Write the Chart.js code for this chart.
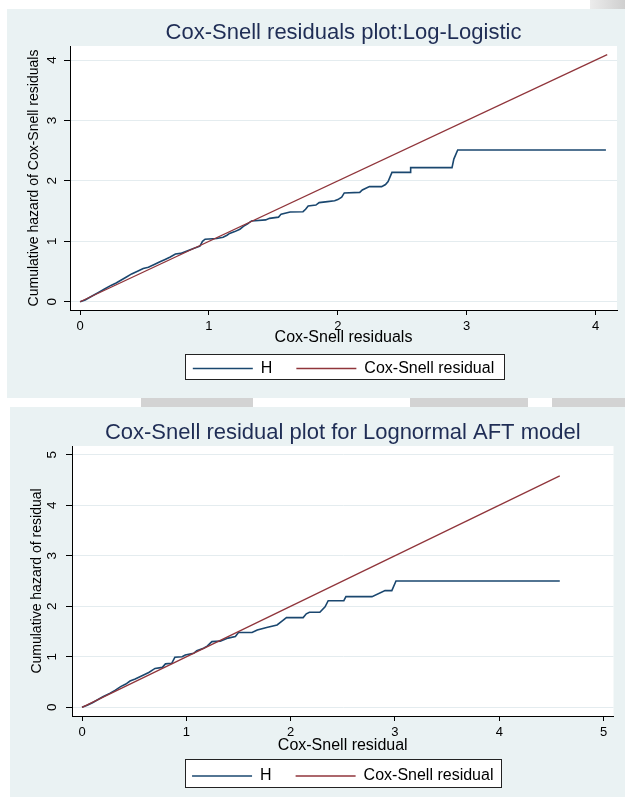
<!DOCTYPE html>
<html><head><meta charset="utf-8">
<script src="https://cdn.jsdelivr.net/npm/chart.js@4.4.1/dist/chart.umd.min.js"></script>
<style>
html,body{margin:0;padding:0;background:#fff;width:625px;height:798px;overflow:hidden;position:relative;}
.cv{position:absolute;}
.g{position:absolute;background:#d3d3d3;}
</style></head><body>
<div class="g" style="left:590px;top:0;width:35px;height:9px;background:linear-gradient(90deg,#ececec,#cfcfcf);"></div>
<div class="g" style="left:141px;top:398px;width:112px;height:9px;"></div>
<div class="g" style="left:410px;top:398px;width:118px;height:9px;"></div>
<div class="g" style="left:552px;top:398px;width:73px;height:9px;"></div>
<canvas id="c1" class="cv" width="618" height="389" style="left:7px;top:9px;width:618px;height:389px;"></canvas>
<canvas id="c2" class="cv" width="615" height="390" style="left:10px;top:407px;width:615px;height:390px;"></canvas>
<script>
// ---------- data: Log-Logistic panel ----------
const llTitle = 'Cox-Snell residuals plot:Log-Logistic';
const llXTitle = 'Cox-Snell residuals';
const llYTitle = 'Cumulative hazard of Cox-Snell residuals';
const llHx = [0,0.04,0.09,0.14,0.19,0.24,0.28,0.32,0.36,0.40,0.45,0.49,0.53,0.58,0.62,0.66,0.70,0.74,0.78,0.83,0.88,0.93,0.95,0.97,1.06,1.09,1.11,1.14,1.16,1.20,1.24,1.27,1.30,1.33,1.44,1.47,1.54,1.56,1.63,1.73,1.75,1.77,1.83,1.855,1.92,1.975,2.00,2.03,2.05,2.17,2.19,2.245,2.34,2.37,2.39,2.42,2.56,2.565,2.886,2.90,2.93,4.08];
const llHy = [0,0.03,0.09,0.15,0.21,0.27,0.31,0.36,0.41,0.46,0.51,0.55,0.57,0.62,0.66,0.70,0.74,0.79,0.80,0.84,0.88,0.92,1.00,1.035,1.045,1.06,1.067,1.10,1.13,1.16,1.20,1.25,1.29,1.337,1.354,1.38,1.40,1.45,1.486,1.49,1.53,1.585,1.60,1.64,1.657,1.67,1.69,1.73,1.80,1.81,1.85,1.905,1.905,1.94,1.99,2.14,2.14,2.22,2.22,2.36,2.51,2.51];
const llRx = [0, 4.09];
const llRy = [0, 4.09];
const llXTicks = [0,1,2,3,4];
const llYTicks = [0,1,2,3,4];

// ---------- data: Lognormal panel ----------
const lnTitle = 'Cox-Snell residual plot for Lognormal AFT model';
const lnXTitle = 'Cox-Snell residual';
const lnYTitle = 'Cumulative hazard of residual';
const lnHx = [0,0.05,0.10,0.15,0.20,0.27,0.32,0.37,0.42,0.46,0.51,0.56,0.60,0.64,0.70,0.77,0.80,0.86,0.89,0.96,0.99,1.07,1.10,1.165,1.20,1.245,1.325,1.40,1.47,1.50,1.63,1.68,1.77,1.87,1.92,1.96,2.12,2.15,2.18,2.28,2.33,2.36,2.51,2.53,2.78,2.905,2.97,3.01,4.58];
const lnHy = [0,0.04,0.09,0.15,0.21,0.28,0.34,0.41,0.46,0.52,0.56,0.61,0.65,0.69,0.77,0.79,0.86,0.87,0.99,1.00,1.035,1.07,1.12,1.17,1.21,1.30,1.31,1.37,1.40,1.48,1.48,1.53,1.58,1.63,1.71,1.775,1.775,1.85,1.88,1.88,1.99,2.11,2.11,2.19,2.19,2.31,2.31,2.50,2.50];
const lnRx = [0, 4.58];
const lnRy = [0, 4.58];
const lnXTicks = [0,1,2,3,4,5];
const lnYTicks = [0,1,2,3,4,5];

const seriesLabels = ['H', 'Cox-Snell residual'];

// ---------- styling ----------
const BLUE = '#1a476f', RED = '#90353b', BG = '#eaf2f3', GRID = '#e4ecef', TITLE_C = '#1f2d55';
Chart.defaults.font.family = '"Liberation Sans", Arial, Helvetica, sans-serif';

const toPts = (xs, ys) => xs.map((x, i) => ({x, y: ys[i]}));

const panelPlugin = {
  id: 'panel',
  beforeDraw(chart, args, o) {
    const {ctx, chartArea: a, width, height} = chart;
    ctx.save();
    ctx.fillStyle = BG; ctx.fillRect(0, 0, width, height);
    ctx.fillStyle = '#fff'; ctx.fillRect(a.left, a.top, a.right - a.left, a.bottom - a.top);
    const hb = chart.legend && chart.legend.legendHitBoxes;
    if (hb && hb.length) {
      const l = Math.round(Math.min(...hb.map(h => h.left)) - o.boxL) + 0.5;
      const r = Math.round(Math.max(...hb.map(h => h.left + h.width)) + o.boxR) + 0.5;
      const c = hb[0].top + hb[0].height / 2;
      const t = Math.round(c - o.boxT) + 0.5, b = Math.round(c + o.boxB) + 0.5;
      ctx.fillStyle = '#fff'; ctx.fillRect(l, t, r - l, b - t);
      ctx.strokeStyle = '#222'; ctx.lineWidth = 1; ctx.strokeRect(l, t, r - l, b - t);
    }
    ctx.restore();
  }
};

function makeChart(id, D, L) {
  return new Chart(document.getElementById(id), {
    type: 'line',
    data: { datasets: [
      { label: seriesLabels[0], data: toPts(D.hx, D.hy), borderColor: BLUE, pointBorderColor: BLUE,
        borderWidth: 1.6, pointBorderWidth: 1.6, pointRadius: 0, tension: 0, fill: false, order: 1 },
      { label: seriesLabels[1], data: toPts(D.rx, D.ry), borderColor: RED, pointBorderColor: RED,
        borderWidth: 1.3, pointBorderWidth: 1.3, pointRadius: 0, tension: 0, fill: false, order: 0 }
    ]},
    options: {
      responsive: false, animation: false, devicePixelRatio: 1,
      events: [],
      layout: { padding: { left: 0, top: 0, right: L.padR, bottom: L.padB } },
      plugins: {
        title: { display: true, text: D.title, fullSize: false, color: TITLE_C,
                 font: { size: 22, weight: 'normal', lineHeight: 1.2 },
                 padding: { top: L.tPadT, bottom: L.tPadB } },
        legend: { position: 'bottom', fullSize: false,
                  labels: { usePointStyle: true, pointStyle: 'line', pointStyleWidth: 60,
                            padding: L.legPad, color: '#000', font: { size: 16 },
                            sort: (a, b) => a.datasetIndex - b.datasetIndex } },
        tooltip: { enabled: false },
        panel: { boxL: L.boxL, boxR: L.boxR, boxT: L.boxT, boxB: L.boxB }
      },
      scales: {
        x: { type: 'linear', min: L.xMin, max: L.xMax,
             afterBuildTicks: s => { s.ticks = D.xt.map(v => ({ value: v })); },
             afterFit: s => { s.height = L.xH; },
             ticks: { font: { size: 13 }, color: '#000', padding: L.xTickPad, maxRotation: 0, autoSkip: false,
                      callback: v => String(v) },
             grid: { drawOnChartArea: false, tickLength: 5, tickColor: '#000', color: '#000' },
             border: { color: '#000', width: 1 },
             title: { display: true, text: D.xTitle, color: '#000', font: { size: 16, lineHeight: 1.2 },
                      padding: { top: 0, bottom: L.xTitlePadB } } },
        y: { type: 'linear', min: L.yMin, max: L.yMax,
             afterBuildTicks: s => { s.ticks = D.yt.map(v => ({ value: v })); },
             afterFit: s => { s.width = L.yW; },
             ticks: { font: { size: 13.5 }, color: '#000', padding: L.yTickPad, minRotation: 90, maxRotation: 90,
                      crossAlign: 'center', autoSkip: false, callback: v => String(v) },
             grid: { color: GRID, tickColor: '#000', tickLength: 6 },
             border: { color: '#000', width: 1 },
             title: { display: true, text: D.yTitle, color: '#000', font: { size: 14, lineHeight: 1.2 },
                      padding: { top: L.yTitlePadT, bottom: 0 } } }
      }
    },
    plugins: [panelPlugin]
  });
}

makeChart('c1',
  { title: llTitle, xTitle: llXTitle, yTitle: llYTitle, hx: llHx, hy: llHy, rx: llRx, ry: llRy, xt: llXTicks, yt: llYTicks },
  { padR: 8, padB: 11.5, tPadT: 10.8, tPadB: -0.2, legPad: 24, xH: 26.5, xTickPad: 3.2, xTitlePadB: -11.1,
    yW: 63, yTickPad: 8.4, yTitlePadT: 19.1, xMin: -0.078, xMax: 4.166, yMin: -0.137, yMax: 4.232,
    boxL: 7.5, boxR: 10, boxT: 15, boxB: 10.5 });

makeChart('c2',
  { title: lnTitle, xTitle: lnXTitle, yTitle: lnYTitle, hx: lnHx, hy: lnHy, rx: lnRx, ry: lnRy, xt: lnXTicks, yt: lnYTicks },
  { padR: 11.5, padB: 3, tPadT: 12.3, tPadB: 0.3, legPad: 24, xH: 28, xTickPad: 4, xTitlePadB: -11.6,
    yW: 62, yTickPad: 10.4, yTitlePadT: 19.1, xMin: -0.096, xMax: 5.095, yMin: -0.172, yMax: 5.172,
    boxL: 7, boxR: 8, boxT: 17, boxB: 10.7 });
</script>
</body></html>
